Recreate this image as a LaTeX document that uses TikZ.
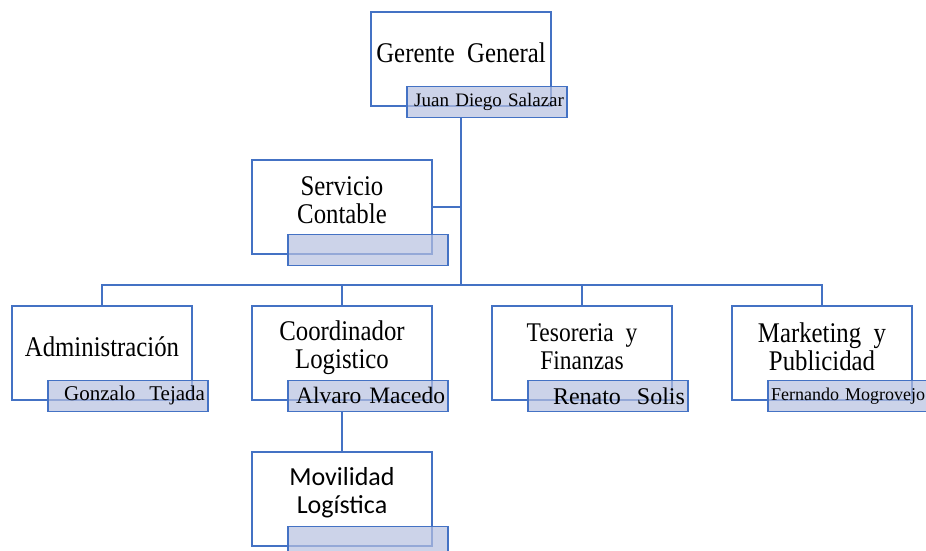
\documentclass[tikz,border=0pt]{standalone}
\usepackage{fontspec}
\setmainfont{Liberation Serif}[FakeStretch=0.87]
\newfontfamily\nombrefont{Liberation Serif}
\newfontfamily\calibrifont{Carlito}
\usetikzlibrary{positioning}

\definecolor{azul}{RGB}{68,114,196}
\definecolor{relleno}{RGB}{183,192,224}

\tikzset{
  unidad/.style={draw=azul, line width=1.3pt, minimum width=180pt, minimum height=94pt,
    align=center, text depth=13pt, font=\fontsize{28.5}{28}\selectfont},
  nombre/.style={draw=azul, line width=1.3pt, fill=relleno, fill opacity=0.7, text opacity=1,
    minimum height=31pt, text width=154pt, inner xsep=3pt, inner ysep=0pt, align=right,
    anchor=north west, xshift=36pt, yshift=21pt},
  linea/.style={draw=azul, line width=1.3pt}
}

\begin{document}
\begin{tikzpicture}[x=1pt, y=1pt, node distance=240pt]
  \useasboundingbox (0,0) rectangle (926,550);
  \node[unidad] (ger) at (461,491) {Gerente~~General};
  \node[unidad, text depth=17pt] (coord) at (342,197) {Coordinador\\Logistico};
  \node[unidad] (adm) [left of=coord] {Administración};
  \node[unidad, font=\fontsize{27}{28}\selectfont] (teso) [right of=coord] {Tesoreria~~y\\Finanzas};
  \node[unidad] (mkt) [right of=teso] {Marketing~~y\\Publicidad};
  \node[unidad] (serv) [above of=coord, node distance=146pt] {Servicio\\Contable};
  \node[unidad, text depth=17pt, font=\calibrifont\fontsize{26}{28}\selectfont] (movil) [below of=coord, node distance=146pt] {Movilidad\\Logística};

  \node[nombre, font=\nombrefont\fontsize{19}{22}\selectfont] (juan) at (ger.south west) {Juan Diego Salazar};
  \node[nombre] (servnombre) at (serv.south west) {};
  \node[nombre, font=\nombrefont\fontsize{21}{24}\selectfont] (gonzalo) at (adm.south west) {Gonzalo~~Tejada};
  \node[nombre, font=\nombrefont\fontsize{23.5}{26}\selectfont] (alvaro) at (coord.south west) {Alvaro Macedo};
  \node[nombre, font=\nombrefont\fontsize{24}{26}\selectfont] (renato) at (teso.south west) {Renato~~Solis};
  \node[nombre, font=\nombrefont\fontsize{18}{22}\selectfont] (fernando) at (mkt.south west) {Fernando Mogrovejo};
  \node[nombre] (movilnombre) at (movil.south west) {};

  \coordinate (bus) at (461,265);
  \draw[linea] (ger.south |- juan.south) -- (bus);
  \draw[linea] (serv.east) -- (serv.east -| bus);
  \draw[linea] (adm.north) -- (adm.north |- bus) -- (mkt.north |- bus) -- (mkt.north);
  \draw[linea] (coord.north) -- (coord.north |- bus);
  \draw[linea] (teso.north) -- (teso.north |- bus);
  \draw[linea] (coord.south |- alvaro.south) -- (movil.north);
\end{tikzpicture}
\end{document}
